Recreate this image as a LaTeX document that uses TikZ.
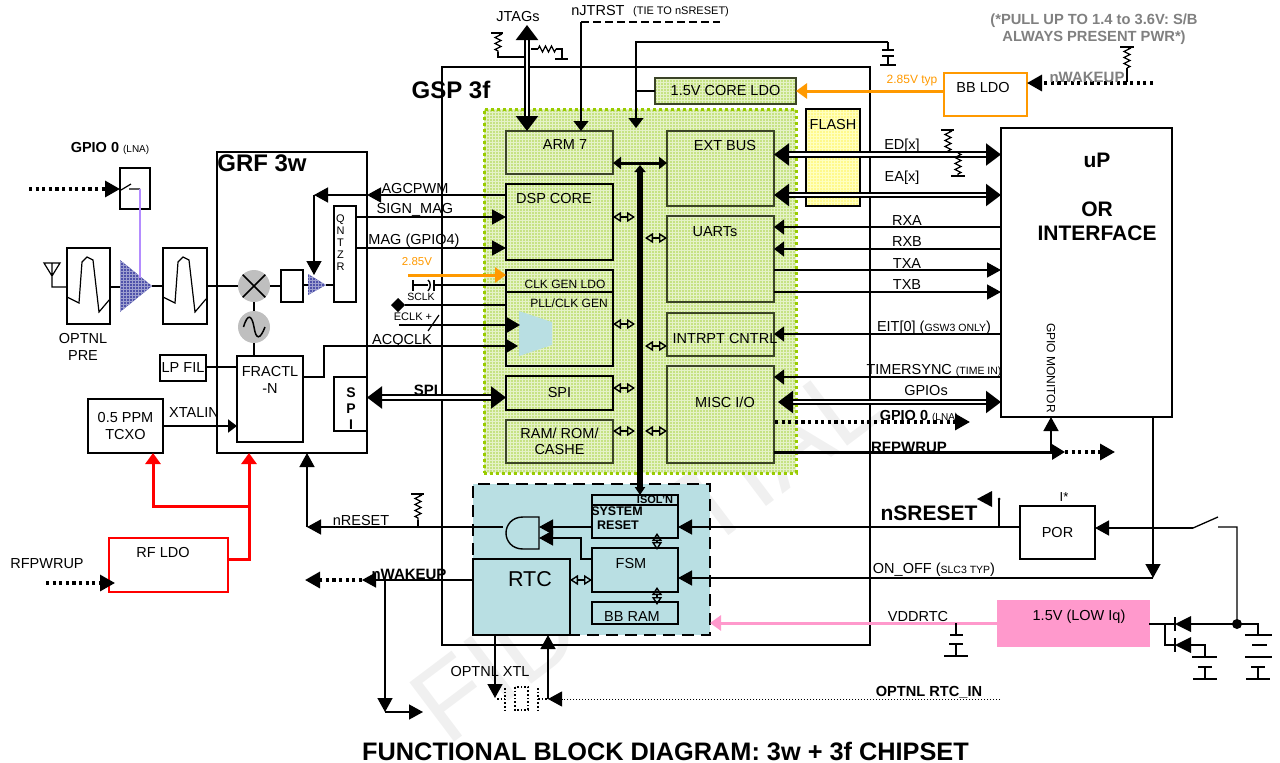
\documentclass[tikz,border=0pt]{standalone}
\usepackage{fontspec}
\setmainfont{Liberation Sans}
\usetikzlibrary{arrows.meta,decorations.pathmorphing,shapes.geometric,patterns}
\newcommand{\fsz}[1]{\fontsize{#1}{#1}\selectfont}
\definecolor{chipgreen}{HTML}{C6E283}
\definecolor{chipedge}{HTML}{99CC00}
\definecolor{rtcblue}{HTML}{B9DFE3}
\definecolor{ampblue}{HTML}{4F52AA}
\definecolor{pinkldo}{HTML}{FF99CC}
\definecolor{orangeldo}{HTML}{FF9900}
\definecolor{lnaviolet}{HTML}{B48CFF}

\begin{document}
\begin{tikzpicture}[
  x=1pt, y=-1pt,
  box/.style={draw, line width=1.3, inner sep=0, outer sep=0, font=\fsz{14.5}, align=center},
  nw/.style={anchor=north west},
  wh/.style 2 args={minimum width=#1, minimum height=#2},
  olive/.style={box, draw=black!70!chipgreen, line width=1.5},
  lbl/.style={inner sep=0, outer sep=0, font=\fsz{14.5}, align=center},
  lblb/.style={lbl, font=\fsz{15}\bfseries},
  arr/.style={-{Triangle[length=10pt,width=15pt]}, line width=1.2},
  arrb/.style={-{Triangle[length=14pt,width=15pt]}, line width=1.4},
  bi/.style={{Triangle[open,length=8pt,width=10pt,line width=1.4pt]}-{Triangle[open,length=8pt,width=10pt,line width=1.4pt]}, line width=1.3},
  dbus/.style={double, double distance=2.5pt, line width=2.2,
               {Triangle[length=15pt,width=22pt]}-{Triangle[length=15pt,width=22pt]}},
  pwr/.style={line width=3, -{Triangle[length=11pt,width=15pt]}},
  dots/.style={line width=3.2, dash pattern=on 3.2pt off 3.4pt},
  dottip/.style={-{Triangle[length=15pt,width=16pt]}},
  res/.style={decorate, decoration={zigzag, segment length=6pt, amplitude=3pt}, line width=1.2},
  capgnd/.pic={\draw[line width=1.4] (-6,0) -- (6,0) (-6,6) -- (6,6) (0,6) -- (0,15) (-8,15) -- (8,15);},
  gnd/.pic={\draw[line width=1.4] (-7,0) -- (7,0) (0,0) -- (0,12) (-12,12) -- (12,12);},
  bandpass/.pic={\draw[line width=1.2] (0,49) -- (12,55) -- (15,14) -- (20,9) -- (26,12) -- (32,64) -- (43,51);}
]
\useasboundingbox (0,0) rectangle (1280,763);

% Watermark
\node[inner sep=0, anchor=west, rotate=37, text=black!6, font=\fsz{108}] (mark) at (425,718) {FIDENTIAL};

% Backgrounds
\node[box, nw, wh={312}{364}, preaction={fill=chipgreen}, pattern=grid, pattern color=white!55!chipgreen, draw=chipedge, line width=3, dash pattern=on 3pt off 3pt] (chip) at (484,109) {};
\node[box, nw, wh={237}{151}, fill=rtcblue, line width=2.2, dash pattern=on 12pt off 7pt] (rtcarea) at (473,484) {};

% Outer blocks
\node[box, nw, wh={150}{301}] (grf) at (217,152) {};
\node[box, nw, wh={428}{578}] (gsp) at (442,67) {};
\node[box, nw, wh={171}{289}, line width=1.6] (up) at (1001,128) {};
\node[lbl, font=\fsz{24}\bfseries] (grftxt) at (262,163) {GRF 3w};
\node[lbl, font=\fsz{24}\bfseries] (gsptxt) at (451,90) {GSP 3f};
\node[lbl, font=\fsz{21}\bfseries] (uptxt) at (1097,160) {uP};
\node[lbl, font=\fsz{21}\bfseries] (ortxt) at (1097,221) {OR\\[3pt]INTERFACE};
\node[lbl, rotate=-90, font=\fsz{12}] (gpiomon) at (1051,368) {GPIO MONITOR};

% GSP blocks
\node[olive, nw, wh={107}{43}] (arm) at (506,131) {};
\node[olive, nw, wh={107}{75}] (ext) at (667,131) {};
\node[box, nw, wh={107}{76}] (dsp) at (506,184) {};
\node[olive, nw, wh={107}{86}] (uarts) at (667,216) {};
\node[box, nw, wh={107}{22}] (clkldo) at (506,270) {};
\node[box, nw, wh={107}{74}] (pll) at (506,292) {};
\node[box, nw, wh={107}{34}] (spi) at (506,376) {SPI};
\node[olive, nw, wh={107}{43}] (ram) at (506,420) {RAM/ ROM/\\[2pt]CASHE};
\node[olive, nw, wh={107}{43}] (intr) at (667,313) {};
\node[olive, nw, wh={107}{97}] (misc) at (667,366) {};
\node[olive, nw, wh={141}{26}, preaction={fill=chipgreen}, pattern=grid, pattern color=white!55!chipgreen] (coreldo) at (655,78) {1.5V CORE LDO};
\node[box, nw, wh={54}{97}, preaction={fill=yellow!45}, pattern=grid, pattern color=white!75!yellow] (flash) at (806,109) {};
\fill[rtcblue] (519,311) -- (552,322) -- (552,345) -- (519,356) -- cycle;
\node[lbl] (armtxt) at (565,145) {ARM 7};
\node[lbl] (exttxt) at (725,146) {EXT BUS};
\node[lbl] (dsptxt) at (554,199) {DSP CORE};
\node[lbl] (uarttxt) at (715,232) {UARTs};
\node[lbl, font=\fsz{12}] (clktxt) at (565,284) {CLK GEN LDO};
\node[lbl, font=\fsz{12}] (plltxt) at (569,303) {PLL/CLK GEN};
\node[lbl] (intrtxt) at (725,339) {INTRPT CNTRL};
\node[lbl] (misctxt) at (725,402) {MISC I/O};
\node[lbl] (flashtxt) at (833,125) {FLASH};

% RTC blocks
\node[box, nw, wh={97}{76}] (rtc) at (473,559) {};
\node[box, nw, wh={86}{10}] (isol) at (592,495) {};
\node[box, nw, wh={86}{33}] (sysrst) at (592,505) {};
\node[box, nw, wh={86}{44}] (fsm) at (592,548) {};
\node[box, nw, wh={86}{22}] (bbram) at (592,602) {};
\node[lbl, font=\fsz{21.5}] (rtctxt) at (530,579) {RTC};
\node[lbl, font=\fsz{11}\bfseries] (isoltxt) at (655,500) {ISOL'N};
\node[lbl, font=\fsz{12.5}\bfseries] (systxt) at (617,511) {SYSTEM};
\node[lbl, font=\fsz{12.5}\bfseries] (rsttxt) at (618,525) {RESET};
\node[lbl] (fsmtxt) at (631,564) {FSM};
\node[lbl] (bbramtxt) at (632,617) {BB RAM};
\node[minimum width=33, minimum height=32, inner sep=0, outer sep=0] (gate) at (522.5,533) {};
\draw[line width=1.4, fill=rtcblue] (gate.north east) -- (523,517) .. controls (512,517) and (506,525) .. (506,533)
  .. controls (506,541) and (512,549) .. (523,549) -- (gate.south east) -- cycle;

% RF blocks
\node[box, nw, wh={30}{41}] (lnasw) at (120,168) {};
\node[box, nw, wh={43}{76}] (optflt) at (67,248) {};
\node[box, nw, wh={44}{76}] (rfflt) at (163,248) {};
\node[box, nw, wh={46}{26}] (lpfil) at (160,355) {LP FIL};
\node[box, nw, wh={75}{54}] (tcxo) at (88,399) {0.5 PPM\\[2pt]TCXO};
\node[box, nw, wh={66}{86}] (fractl) at (237,356) {};
\node[box, nw, wh={33}{54}] (grfspi) at (334,377) {};
\node[box, nw, wh={22}{96}] (qntzr) at (334,206) {};
\node[box, nw, wh={22}{32}] (ifflt) at (281,270) {};
\node[box, nw, wh={119}{54}, draw=red] (rfldo) at (109,538) {};
\node[circle, fill=black!25, minimum size=32, inner sep=0, outer sep=0] (mix) at (254,286) {};
\node[circle, fill=black!25, minimum size=32, inner sep=0, outer sep=0] (osc) at (254,327) {};
\draw[line width=1.5] (mix.45) -- (mix.225) (mix.135) -- (mix.315);
\draw[line width=1.5] (243.5,327) .. controls (248,312) and (252,316) .. (254,327) .. controls (256,340) and (260,340) .. (265,327);
\fill[preaction={fill=ampblue}, pattern=grid, pattern color=white!45!ampblue] (120,260) coordinate (lnain) -- (152,286) coordinate (lnaout) -- (120,312) -- cycle;
\fill[preaction={fill=ampblue}, pattern=grid, pattern color=white!45!ampblue] (308,274) -- (326,285) coordinate (ifout) -- (308,295) -- cycle;
\pic at (67,248) {bandpass};
\pic at (163,248) {bandpass};
\node[lbl, font=\fsz{11}] (qtxt) at (340.5,243) {Q\\[1pt]N\\[1pt]T\\[1pt]Z\\[1pt]R};
\node[lbl, font=\fsz{14}\bfseries] (stxt) at (351,409) {S\\[2pt]P\\[2pt]I};
\node[lbl] (fractxt) at (270,380) {FRACTL\\[2pt]-N};
\node[lbl] (rfldotxt) at (163,553) {RF LDO};
\node[lbl] (opttxt) at (83,347) {OPTNL\\[2pt]PRE};
\node[lbl] (xtaltxt) at (194,413) {XTALIN};
\node[lbl] (rfwtxt) at (47,564) {RFPWRUP};
\node[lbl, font=\fsz{14.5}\bfseries] (lnatxt) at (110,148) {GPIO 0 {\fsz{10}\mdseries (LNA)}};

% RF path
\coordinate (ant) at (52,287);
\draw[line width=1.2] (44,263) -- (60,263) -- (52,276) -- cycle (52,263) -- (ant) -- (ant -| optflt.west);
\draw[line width=1.2] (optflt.east |- ant) -- (lnain |- ant);
\draw[line width=1.2] (lnaout) -- (lnaout -| rfflt.west);
\draw[line width=1.2] (rfflt.east |- mix) -- (mix.west);
\draw[line width=1.2] (mix.east) -- (mix -| ifflt.west);
\draw[line width=1.2] (ifflt.east |- ifout) -- (308,285);
\draw[line width=1.2] (ifout) -- (ifout -| qntzr.west);
\draw[line width=1.2] (mix.south) -- (osc.north);
\draw[line width=1.2] (osc.south) -- (osc |- fractl.north);
\draw[line width=1.2] (lpfil.east |- 0,367) -- (fractl.west |- 0,367);
\draw[line width=2, -{Triangle[length=9pt,width=13pt]}] (tcxo.east |- 0,426) -- (fractl.west |- 0,426);
\coordinate (lnadot) at (29,189);
\draw[dots, dottip] (lnadot) -- (lnadot -| lnasw.west);
\draw[line width=1.2] (121,190) -- (131,184) (129,189) -- (140,189);
\draw[line width=1.2, color=lnaviolet] (140,189) -- (140,278);

% RF power
\coordinate (rfj) at (249,506);
\draw[pwr, red] (rfldo.east |- 0,559) -| (rfj |- grf.south);
\draw[pwr, red] (rfj) -| (153,453);
\coordinate (rfwdot) at (46,583);
\draw[dots, dottip] (rfwdot) -- (115,583);

% Between GRF and GSP
\coordinate (agcj) at (314,195);
\draw[arrb] (dsp.west |- agcj) -- (grf.east |- agcj);
\draw[arrb] (grf.east |- agcj) -- (agcj);
\draw[arrb] (agcj) -- (314,275);
\draw[arrb] (qntzr.east |- 0,217) -- (dsp.west |- 0,217);
\draw[arrb] (qntzr.east |- 0,248) -- (dsp.west |- 0,248);
\node[lbl] (agctxt) at (415,189) {AGCPWM};
\node[lbl] (signtxt) at (415,210) {SIGN\_MAG};
\node[lbl] (magtxt) at (414,241) {MAG (GPIO4)};
\coordinate (v285) at (408,275);
\draw[pwr, orangeldo] (v285) -- (clkldo.west |- v285);
\node[lbl, text=orangeldo, font=\fsz{11.5}] (v285txt) at (417,262) {2.85V};
\coordinate (sclkcap) at (434,285);
\draw[line width=1.4] (413,280) -- (413,291) (413,285) -- (428,285);
\draw[line width=1.4] (428,280) .. controls (431,282) and (431,288) .. (428,291);
\draw[line width=1.4] (sclkcap |- 0,280) -- (sclkcap |- 0,291);
\draw[line width=1.2] (sclkcap) -- (sclkcap -| clkldo.west);
\node[lbl, font=\fsz{10.5}] (sclktxt) at (421,297) {SCLK};
\node[diamond, fill=black, minimum size=14, inner sep=0, outer sep=0] (eclkd) at (398,305) {};
\draw[line width=1.2] (eclkd.east) -- (eclkd -| pll.west);
\node[lbl, font=\fsz{11}] (eclktxt) at (413,317) {ECLK +};
\coordinate (eclkin) at (399,325);
\draw[line width=1.6, -{Triangle[length=13pt,width=15pt]}] (eclkin) -- (520,325);
\draw[line width=1.2] (428,331) -- (439,315);
\coordinate (acqj) at (324,346);
\draw[line width=1.6, -{Triangle[length=13pt,width=15pt]}] (fractl.east |- 0,377) -| (acqj) -- (518,346);
\node[lbl] (acqtxt) at (402,341) {ACQCLK};
\draw[dbus] (grf.east |- 0,397.5) -- (spi.west |- 0,397.5);
\node[lblb] (spitxt) at (426,390) {SPI};

% JTAG
\node[lbl] (jtagtxt) at (518,17) {JTAGs};
\coordinate (jtagtop) at (527,25);
\draw[dbus] (jtagtop) -- (jtagtop |- arm.north);
\coordinate (jra) at (498,33);
\coordinate (jrb) at (498,52);
\coordinate (jrc) at (538,49);
\coordinate (jrd) at (556,49);
\draw[line width=1.3] (491,33) -- (503,33);
\draw[res] (jra) -- (jrb);
\draw[line width=1.2] (jrb) |- (524,57);
\draw[line width=1.2] (531,49) -- (jrc);
\draw[res] (jrc) -- (jrd);
\draw[line width=1.3] (jrd) -| (562,59) (555,59) -- (568,59);
\coordinate (njtop) at (581,22);
\draw[line width=2, dash pattern=on 8pt off 4pt] (njtop) -- (720,22);
\draw[arr] (njtop) -- (njtop |- arm.north);
\node[lbl] (njtxt) at (598,11) {nJTRST};
\node[lbl, font=\fsz{11}] (tietxt) at (681,12) {(TIE TO nSRESET)};
\coordinate (corej) at (636,42);
\draw[arr] (888,42) -- (corej) -- (636,128);
\draw[line width=1.2] (corej |- coreldo) -- (coreldo.west);
\pic at (888,50) {capgnd};
\draw[line width=1.2] (888,42) -- (888,50);

% Internal bus
\coordinate (bustop) at (640,165);
\draw[line width=6, {Triangle[length=7pt,width=11pt]}-{Triangle[length=8pt,width=10pt]}] (bustop) -- (bustop |- isol.north);
\draw[line width=3, {Triangle[length=8pt,width=12pt]}-{Triangle[length=8pt,width=12pt]}] (arm.east |- 0,163) -- (ext.west |- 0,163);
\draw[bi] (dsp.east |- 0,217) -- (635,217);
\draw[bi] (645,238) -- (uarts.west |- 0,238);
\draw[bi] (pll.east |- 0,324) -- (635,324);
\draw[bi] (645,346) -- (intr.west |- 0,346);
\draw[bi] (spi.east |- 0,388) -- (635,388);
\draw[bi] (ram.east |- 0,431) -- (635,431);
\draw[bi] (645,431) -- (misc.west |- 0,431);

% uP side
\draw[dbus] (ext.east |- 0,154.5) -- (up.west |- 0,154.5);
\draw[dbus] (ext.east |- 0,195) -- (up.west |- 0,195);
\node[lbl] (edtxt) at (902,146) {ED[x]};
\node[lbl] (eatxt) at (902,178) {EA[x]};
\coordinate (era) at (948,130);
\coordinate (erb) at (948,152);
\coordinate (erc) at (958,153);
\coordinate (erd) at (958,176);
\draw[line width=1.3] (941,130) -- (954,130) (951,176) -- (965,176);
\draw[res] (era) -- (erb);
\draw[res] (erc) -- (erd);
\draw[arr] (up.west |- 0,227) -- (uarts.east |- 0,227);
\draw[arr] (up.west |- 0,249) -- (uarts.east |- 0,249);
\draw[arrb] (uarts.east |- 0,270) -- (up.west |- 0,270);
\draw[arrb] (uarts.east |- 0,292) -- (up.west |- 0,292);
\node[lbl] (rxatxt) at (907,221) {RXA};
\node[lbl] (rxbtxt) at (907,242) {RXB};
\node[lbl] (txatxt) at (907,264) {TXA};
\node[lbl] (txbtxt) at (907,285) {TXB};
\draw[arr] (up.west |- 0,334) -- (intr.east |- 0,334);
\node[lbl] (eittxt) at (934,328) {EIT[0] ({\fsz{10.5}GSW3 ONLY})};
\draw[arr] (up.west |- 0,377) -- (misc.east |- 0,377);
\node[lbl] (timetxt) at (934,371) {TIMERSYNC {\fsz{10.5}(TIME IN)}};
\draw[dbus] (778,402) -- (up.west |- 0,402);
\node[lbl] (gpiotxt) at (926,391) {GPIOs};
\coordinate (gpiodot) at (775,422);
\draw[dots, dottip] (gpiodot) -- (970,422);
\node[lbl, font=\fsz{14.5}\bfseries] (gpio0txt) at (919,416) {GPIO 0 {\fsz{10}\mdseries (LNA)}};
\coordinate (rfend) at (1065,452);
\coordinate (rfup) at (1051,452);
\draw[line width=3, -{Triangle[length=13pt,width=15pt]}] (misc.east |- rfend) -- (rfend);
\draw[dots, dottip] (rfend) -- (1115,452);
\draw[arrb] (rfup) -- (rfup |- up.south);
\node[lblb] (rfpwtxt) at (909,447) {RFPWRUP};

% BB LDO
\node[box, nw, wh={83}{43}, draw=orangeldo, line width=1.6] (bbldo) at (944,73) {};
\node[lbl] (bbtxt) at (983,88) {BB LDO};
\draw[pwr, orangeldo] (bbldo.west |- coreldo) -- (coreldo.east);
\node[lbl, text=orangeldo, font=\fsz{12}] (typtxt) at (912,81) {2.85V typ};
\coordinate (wkdot) at (1153,83);
\draw[dots, dottip] (wkdot) -- (wkdot -| bbldo.east);
\node[lbl, text=black!50, font=\fsz{15}\bfseries] (wktxt) at (1087,77) {nWAKEUP};
\node[lbl, text=black!50, font=\fsz{14.7}\bfseries] (pulltxt) at (1094,29) {(*PULL UP TO 1.4 to 3.6V: S/B\\[2pt]ALWAYS PRESENT PWR*)};
\coordinate (wra) at (1127,47);
\coordinate (wrb) at (1127,68);
\draw[line width=1.3] (1120,47) -- (1134,47);
\draw[res] (wra) -- (wrb);
\draw[line width=1.2] (wrb) -- (1127,82);

% RTC connections
\node[box, nw, wh={75}{53}] (por) at (1020,506) {POR};
\coordinate (nrstj) at (307,527);
\draw[arrb] (503,527) -- (nrstj);
\draw[arrb] (nrstj) -- (nrstj |- grf.south);
\node[lbl] (nrsttxt) at (361,521) {nRESET};
\coordinate (nra) at (418,494);
\coordinate (nrb) at (418,520);
\draw[line width=1.3] (411,494) -- (424,494);
\draw[res] (nra) -- (nrb);
\draw[line width=1.2] (nrb) -- (418,527);
\draw[arrb] (sysrst.west |- 0,527) -- (gate.east |- 0,527);
\draw[arrb] (fsm.west |- 0,559) -| (581,538) -- (gate.east |- 0,538);
\draw[bi] (657,533) -- (657,550);
\draw[bi] (657,587) -- (657,605);
\draw[bi] (rtc.east |- 0,580) -- (fsm.west |- 0,580);
\draw[arrb] (por.west |- 0,527) -- (sysrst.east |- 0,527);
\coordinate (srstj) at (999,527);
\coordinate (srstt) at (999,499);
\draw[line width=1.3] (srstj) -- (srstt);
\fill (srstt) circle (1.5);
\fill (992,491) -- (977,499) -- (992,507) -- cycle;
\node[lbl, font=\fsz{21}\bfseries] (srsttxt) at (929,513) {nSRESET};
\node[lbl, font=\fsz{13}] (istxt) at (1064,497) {I*};
\coordinate (onoff) at (1153,578);
\draw[arrb] (onoff |- up.south) -- (onoff);
\draw[arrb] (onoff) -- (fsm.east |- onoff);
\node[lbl] (ontxt) at (934,570) {ON\_OFF ({\fsz{10.5}SLC3 TYP})};
\coordinate (wkj) at (385,580);
\draw[line width=1.5, -{Triangle[length=14pt,width=15pt]}] (rtc.west |- wkj) -- (362,580);
\draw[dots, dottip] (362,580) -- (305,580);
\draw[line width=1.5, -{Triangle[length=14pt,width=15pt]}] (wkj) -- (385,712);
\draw[line width=1.5, -{Triangle[length=14pt,width=15pt]}] (385,712) -- (423,712);
\node[lblb] (wkbtxt) at (409,574) {nWAKEUP};

% XTAL and RTC_IN
\coordinate (xtl) at (495,698);
\coordinate (xtr) at (548,699);
\coordinate (rtcin) at (1000,699);
\draw[arrb] (xtl |- rtc.south) -- (xtl);
\draw[arrb] (xtr) -- (xtr |- rtc.south);
\draw[line width=1, dotted, -{Triangle[length=14pt,width=15pt]}] (rtcin) -- (xtr);
\draw[line width=1.6, dotted] (515,687) rectangle (528,710);
\draw[line width=1.6, dotted] (505,688) -- (505,710) (538,688) -- (538,710) (497,699) -- (505,699) (538,699) -- (xtr);
\node[lbl] (xtltxt) at (490,671) {OPTNL XTL};
\node[lbl, font=\fsz{14.6}\bfseries] (rtcintxt) at (929,692) {OPTNL RTC\_IN};

% Power at the bottom right
\node[box, nw, wh={151}{45}, fill=pinkldo, draw=pinkldo] (lowiq) at (998,601) {};
\node[lbl] (lowtxt) at (1079,617) {1.5V (LOW Iq)};
\draw[pwr, pinkldo] (lowiq.west |- 0,623) -- (rtcarea.east |- 0,623);
\node[lbl] (vddtxt) at (918,617) {VDDRTC};
\draw[line width=1.4] (956,623) -- (956,635) (950,635) -- (963,635);
\pic at (956,644) {gnd};
\coordinate (swj) at (1193,528);
\coordinate (dot) at (1237,624);
\draw[arrb] (swj) -- (por.east |- swj);
\draw[line width=1.3] (swj) -- (1218,517) (1218,527) -| (dot);
\fill (dot) circle (5);
\coordinate (d1) at (1175,624);
\coordinate (d2) at (1175,645);
\draw[line width=1.3] (lowiq.east |- d1) -- (d1) (1165,624) |- (d2) (d1) ++(0,-7) -- ++(0,14) (d2) ++(0,-7) -- ++(0,14);
\fill (d1) -- (1191,616) -- (1191,632) -- cycle;
\fill (d2) -- (1191,637) -- (1191,653) -- cycle;
\draw[line width=1.3] (1191,624) -- (dot) (dot) -| (1258,635);
\draw[line width=1.3] (1191,645) -| (1205,657);
\draw[line width=1.4] (1192,657) -- (1217,657);
\pic at (1205,667) {gnd};
\draw[line width=1.4] (1245,635) -- (1272,635) (1252,645) -- (1267,645) (1245,657) -- (1272,657);
\pic at (1258,667) {gnd};

% Title
\node[lbl, font=\fsz{25.3}\bfseries] (titletxt) at (665.5,751) {FUNCTIONAL BLOCK DIAGRAM: 3w + 3f CHIPSET};
\end{tikzpicture}
\end{document}
